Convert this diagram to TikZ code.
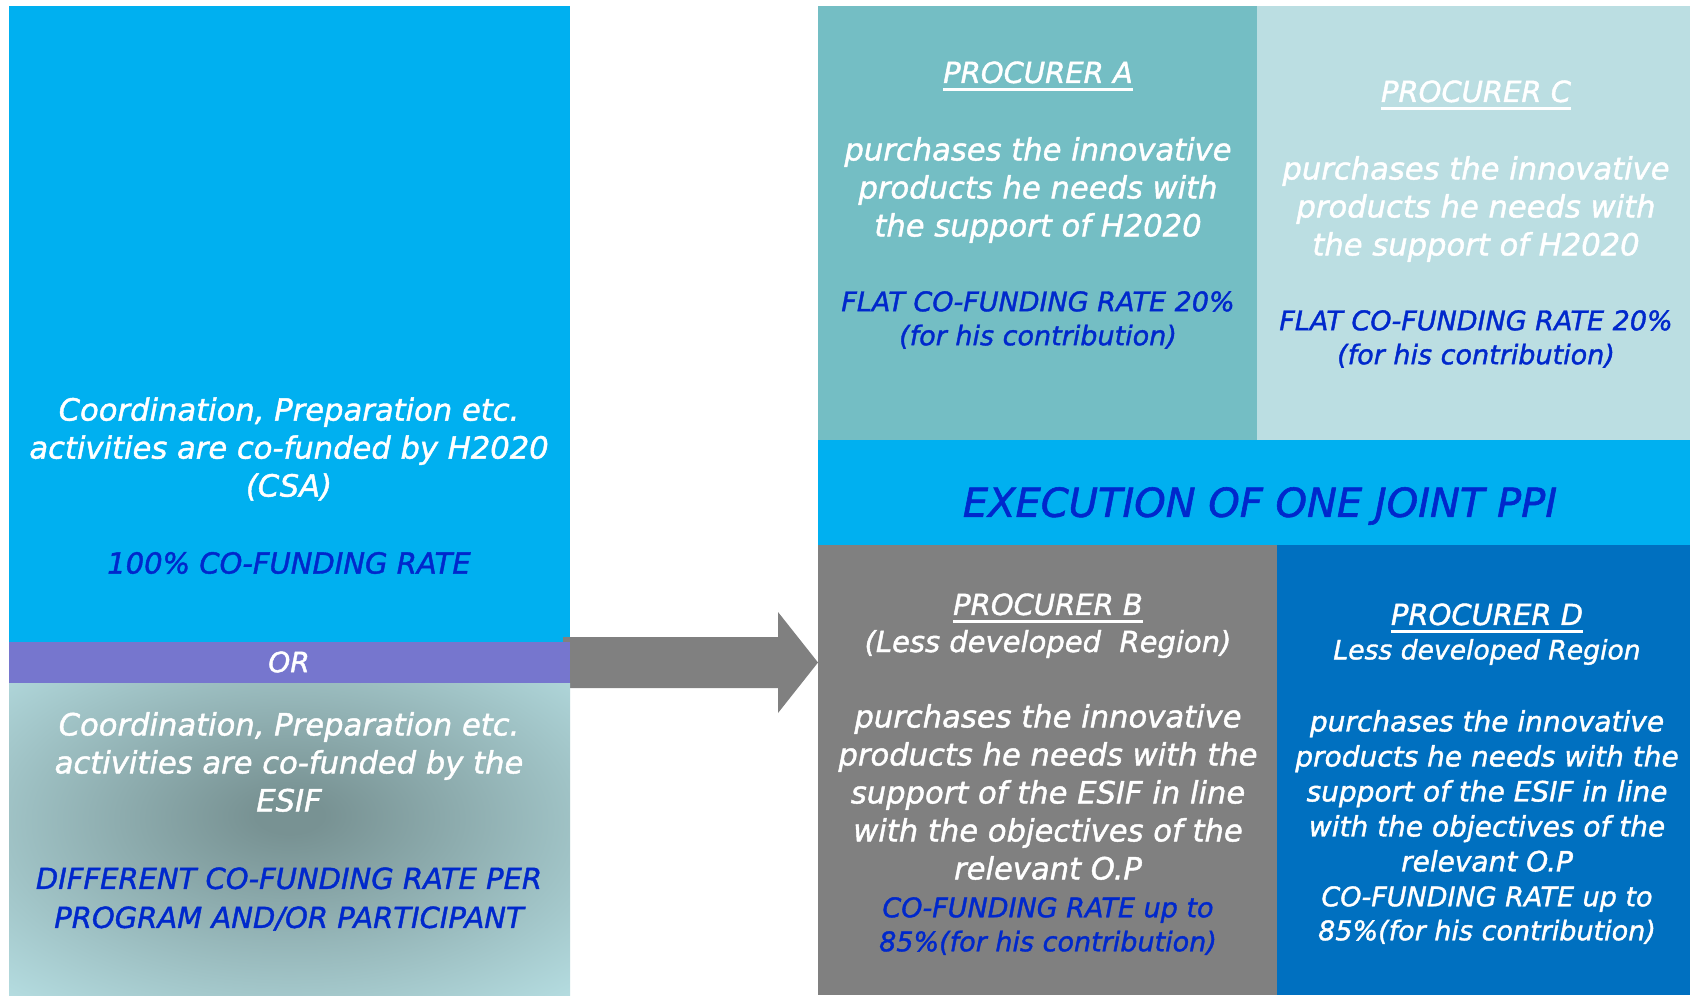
\documentclass[tikz,border=0pt]{standalone}
\usepackage{fontspec}
\setmainfont[ItalicFeatures={FakeBold=1.4}]{DejaVu Sans}
\definecolor{cyanbox}{RGB}{0,176,240}
\definecolor{orband}{RGB}{118,118,206}
\definecolor{esifdark}{RGB}{120,146,147}
\definecolor{esiflight}{RGB}{182,222,226}
\definecolor{procA}{RGB}{116,190,196}
\definecolor{procC}{RGB}{187,222,226}
\definecolor{procB}{RGB}{128,128,128}
\definecolor{procD}{RGB}{0,112,192}
\definecolor{txtblue}{RGB}{0,40,204}
\definecolor{arrowgray}{RGB}{128,128,128}
\newcommand\ttl[1]{\setbox0\hbox{#1}\rlap{\vrule height -2.6pt depth 3.8pt width \wd0}\box0}
\pgfdeclareradialshading{esif}{\pgfpoint{0bp}{4bp}}{color(0bp)=(esifdark); color(3bp)=(esifdark); color(38bp)=(esiflight); color(80bp)=(esiflight)}
\tikzset{
  wtxt/.style={text=white, align=center, inner sep=0pt, font=\itshape\fontsize{15.3}{19}\selectfont},
  wtxtsm/.style={text=white, align=center, inner sep=0pt, font=\itshape\fontsize{14}{17.5}\selectfont},
  btxt/.style={text=txtblue, align=center, inner sep=0pt, font=\itshape\fontsize{13.5}{17}\selectfont},
  lbtxt/.style={text=txtblue, align=center, inner sep=0pt, font=\itshape\fontsize{14.5}{19.5}\selectfont},
  ttxt/.style={text=white, align=center, inner sep=0pt, font=\itshape\fontsize{14.5}{17}\selectfont},
}
\begin{document}
\begin{tikzpicture}[x=0.5pt,y=-0.5pt]
\useasboundingbox (0,0) rectangle (1690,995);
\fill[white] (0,0) rectangle (1690,995);
% left column
\fill[cyanbox] (9,6) rectangle (570,642);
\fill[arrowgray] (563,637) -- (778,637) -- (778,612) -- (818,662.5) -- (778,713) -- (778,688) -- (563,688) -- cycle;
\fill[orband] (9,642) rectangle (570,683);
\shade[shading=esif] (9,683) rectangle (570,995);
% right panels
\fill[procA] (818,6) rectangle (1257,440);
\fill[procC] (1257,6) rectangle (1690,440);
\fill[cyanbox] (818,440) rectangle (1690,545);
\fill[procB] (818,545) rectangle (1277,995);
\fill[procD] (1277,545) rectangle (1690,995);
% left texts
\node[wtxt] (csa) at (289,449) {Coordination, Preparation etc.\\activities are co-funded by H2020\\(CSA)};
\node[lbtxt] (csarate) at (289,563) {100\% CO-FUNDING RATE};
\node[wtxt, font=\itshape\fontsize{14}{17}\selectfont] (or) at (289,662) {OR};
\node[wtxt] (esif) at (289,762) {Coordination, Preparation etc.\\activities are co-funded by the\\ESIF};
\node[lbtxt] (esifrate) at (289,899) {DIFFERENT CO-FUNDING RATE PER\\PROGRAM AND/OR PARTICIPANT};
% procurer A
\node[ttxt] (atitle) at (1038,76) {\ttl{PROCURER A}};
\node[wtxt] (abody) at (1038,190) {purchases the innovative\\products he needs with\\the support of H2020};
\node[btxt] (arate) at (1038,320) {FLAT CO-FUNDING RATE 20\%\\(for his contribution)};
% procurer C
\node[ttxt] (ctitle) at (1476,95) {\ttl{PROCURER C}};
\node[wtxt] (cbody) at (1476,209) {purchases the innovative\\products he needs with\\the support of H2020};
\node[btxt] (crate) at (1476,339) {FLAT CO-FUNDING RATE 20\%\\(for his contribution)};
% execution
\node[text=txtblue, inner sep=0pt, font=\itshape\fontsize{20}{24}\selectfont] (exec) at (1260,506) {EXECUTION OF ONE JOINT PPI};
% procurer B
\node[ttxt] (btitle) at (1048,608) {\ttl{PROCURER B}};
\node[ttxt] (bsub) at (1048,644) {(Less developed\ \ Region)};
\node[wtxt] (bbody) at (1048,792) {purchases the innovative\\products he needs with the\\support of the ESIF in line\\with the objectives of the\\relevant O.P};
\node[btxt] (brate) at (1048,926) {CO-FUNDING RATE up to\\85\%(for his contribution)};
% procurer D
\node[ttxt] (dtitle) at (1487,618) {\ttl{PROCURER D}};
\node[ttxt, font=\itshape\fontsize{13.3}{17}\selectfont] (dsub) at (1487,652) {Less developed Region};
\node[wtxtsm] (dbody) at (1487,791) {purchases the innovative\\products he needs with the\\support of the ESIF in line\\with the objectives of the\\relevant O.P};
\node[btxt, text=white] (drate) at (1487,915) {CO-FUNDING RATE up to\\85\%(for his contribution)};
\end{tikzpicture}
\end{document}
